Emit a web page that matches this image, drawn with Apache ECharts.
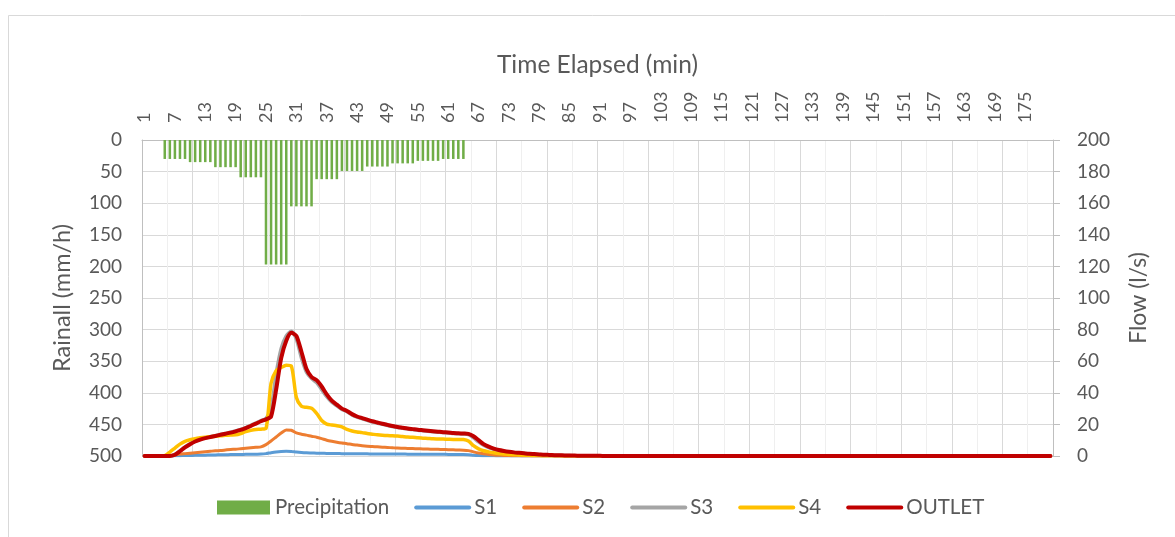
<!DOCTYPE html>
<html>
<head>
<meta charset="utf-8">
<script src="https://cdn.jsdelivr.net/npm/echarts@6/dist/echarts.min.js"></script>
<style>
html,body{margin:0;padding:0;background:#fff;}
#c{width:1175px;height:537px;}
</style>
</head>
<body>
<div id="c"></div>
<script>
// Minutes 1..180 (category labels)
const categories = Array.from({length: 180}, (_, i) => String(i + 1));

// Rainfall intensity (mm/h), one value per minute
const precipitation = [
  0,0,0,0,30,30,30,30,30,35,
  35,35,35,35,43,43,43,43,43,59,
  59,59,59,59,197,197,197,197,197,105,
  105,105,105,105,62,62,62,62,62,49,
  49,49,49,49,42,42,42,42,42,37,
  37,37,37,37,33,33,33,33,33,30,
  30,30,30,30,0,0,0,0,0,0,
  0,0,0,0,0,0,0,0,0,0,
  0,0,0,0,0,0,0,0,0,0,
  0,0,0,0,0,0,0,0,0,0,
  0,0,0,0,0,0,0,0,0,0,
  0,0,0,0,0,0,0,0,0,0,
  0,0,0,0,0,0,0,0,0,0,
  0,0,0,0,0,0,0,0,0,0,
  0,0,0,0,0,0,0,0,0,0,
  0,0,0,0,0,0,0,0,0,0,
  0,0,0,0,0,0,0,0,0,0,
  0,0,0,0,0,0,0,0,0,0
];

// Flows (l/s)
const s1 = [
  0,0,0,0,0,0,0.1,0.2,0.3,0.35,
  0.4,0.5,0.55,0.6,0.7,0.75,0.8,0.9,0.95,1,
  1.05,1.1,1.15,1.2,1.5,2.1,2.6,2.9,3,2.9,
  2.5,2.2,2,1.9,1.8,1.7,1.65,1.6,1.55,1.5,
  1.47,1.44,1.41,1.38,1.35,1.32,1.3,1.28,1.26,1.24,
  1.22,1.2,1.18,1.16,1.14,1.12,1.1,1.08,1.06,1.04,
  1.02,1,0.98,0.96,0.8,0.5,0.3,0.2,0.12,0.08,
  0.05,0.03,0.02,0.01,0,0,0,0,0,0,
  0,0,0,0,0,0,0,0,0,0,
  0,0,0,0,0,0,0,0,0,0,
  0,0,0,0,0,0,0,0,0,0,
  0,0,0,0,0,0,0,0,0,0,
  0,0,0,0,0,0,0,0,0,0,
  0,0,0,0,0,0,0,0,0,0,
  0,0,0,0,0,0,0,0,0,0,
  0,0,0,0,0,0,0,0,0,0,
  0,0,0,0,0,0,0,0,0,0,
  0,0,0,0,0,0,0,0,0,0
];
const s2 = [
  0,0,0,0,0,0.2,0.7,1.2,1.5,1.8,
  2.1,2.4,2.7,3,3.3,3.5,3.8,4.1,4.3,4.6,
  4.9,5.2,5.5,5.8,7.2,9.5,12,14.5,16.5,16.3,
  14.6,13.8,13.2,12.5,11.9,11,10,9.3,8.7,8.2,
  7.8,7.3,6.9,6.5,6.2,6,5.8,5.6,5.4,5.2,
  5,4.9,4.8,4.7,4.6,4.5,4.4,4.3,4.2,4.1,
  4,3.9,3.8,3.7,3.4,2.6,1.9,1.4,1,0.7,
  0.5,0.35,0.25,0.15,0.1,0.05,0,0,0,0,
  0,0,0,0,0,0,0,0,0,0,
  0,0,0,0,0,0,0,0,0,0,
  0,0,0,0,0,0,0,0,0,0,
  0,0,0,0,0,0,0,0,0,0,
  0,0,0,0,0,0,0,0,0,0,
  0,0,0,0,0,0,0,0,0,0,
  0,0,0,0,0,0,0,0,0,0,
  0,0,0,0,0,0,0,0,0,0,
  0,0,0,0,0,0,0,0,0,0,
  0,0,0,0,0,0,0,0,0,0
];
const s3 = [
  0,0,0,0,0,0,1,3.4,5.8,7.8,
  9.4,10.6,11.5,12.2,12.9,13.6,14.3,15,15.9,16.8,
  18,19.4,20.9,22.4,23.8,30,52,68,76,79,
  74,62,53,49,46.5,42,37.5,34,31.8,29.5,
  28,26,24.6,23.6,22.6,21.6,20.8,20,19.3,18.7,
  18.1,17.6,17.1,16.7,16.3,16,15.7,15.4,15.1,14.8,
  14.6,14.3,14.1,13.9,13.5,11.5,9,6.8,5.3,4.3,
  3.5,2.9,2.4,2,1.7,1.4,1.2,1,0.85,0.7,
  0.6,0.5,0.4,0.3,0.25,0.2,0.15,0.12,0.1,0.08,
  0.06,0.05,0.04,0.03,0.02,0.02,0.01,0.01,0,0,
  0,0,0,0,0,0,0,0,0,0,
  0,0,0,0,0,0,0,0,0,0,
  0,0,0,0,0,0,0,0,0,0,
  0,0,0,0,0,0,0,0,0,0,
  0,0,0,0,0,0,0,0,0,0,
  0,0,0,0,0,0,0,0,0,0,
  0,0,0,0,0,0,0,0,0,0,
  0,0,0,0,0,0,0,0,0,0
];
const s4 = [
  0,0,0,0,0.3,2.5,5,7.5,9.3,10.3,
  11,11.5,11.9,12.2,12.5,12.8,13.1,13.3,13.4,14.2,
  15.4,16.2,16.8,17,17.5,46,54,56,57.5,57,
  37,31.5,30.8,30.2,27,22.5,20.2,19.6,19.2,18.5,
  16.8,15.8,15.2,14.8,14.2,13.8,13.4,13.1,12.9,12.8,
  12.6,12.3,12,11.8,11.5,11.3,11.1,10.9,10.8,10.7,
  10.6,10.5,10.5,10.4,9.5,6.5,4.5,3.3,2.6,2,
  1.5,1.2,1,0.8,0.65,0.5,0.4,0.3,0.25,0.2,
  0.15,0.1,0.08,0.06,0.05,0.04,0.03,0.02,0.01,0.01,
  0,0,0,0,0,0,0,0,0,0,
  0,0,0,0,0,0,0,0,0,0,
  0,0,0,0,0,0,0,0,0,0,
  0,0,0,0,0,0,0,0,0,0,
  0,0,0,0,0,0,0,0,0,0,
  0,0,0,0,0,0,0,0,0,0,
  0,0,0,0,0,0,0,0,0,0,
  0,0,0,0,0,0,0,0,0,0,
  0,0,0,0,0,0,0,0,0,0
];
const outlet = [
  0,0,0,0,0,0,0.8,3,5.5,7.5,
  9.2,10.4,11.3,12,12.7,13.4,14.1,14.8,15.6,16.5,
  17.7,19,20.5,22,23.2,25,42,62,73,78,
  76,66,55,50,48,44,39,35,32.5,30,
  28.5,26.5,25,24,23,22,21.2,20.4,19.7,19,
  18.4,17.9,17.4,17,16.6,16.3,16,15.7,15.4,15.1,
  14.9,14.6,14.4,14.2,14,12.5,10,7.5,5.9,4.7,
  3.8,3.2,2.7,2.3,2,1.7,1.4,1.2,1,0.8,
  0.7,0.55,0.45,0.35,0.3,0.25,0.2,0.15,0.12,0.1,
  0.08,0.06,0.05,0.04,0.03,0.02,0.02,0.01,0.01,0,
  0,0,0,0,0,0,0,0,0,0,
  0,0,0,0,0,0,0,0,0,0,
  0,0,0,0,0,0,0,0,0,0,
  0,0,0,0,0,0,0,0,0,0,
  0,0,0,0,0,0,0,0,0,0,
  0,0,0,0,0,0,0,0,0,0,
  0,0,0,0,0,0,0,0,0,0,
  0,0,0,0,0,0,0,0,0,0
];

// Axis tick settings
const rainTicks = {min: 0, max: 500, interval: 50};
const flowTicks = {min: 0, max: 200, interval: 20};

const FONT = 'Lato';
const TXT = '#595959';

const chart = echarts.init(document.getElementById('c'), null, {renderer: 'canvas'});

function lineSeries(name, data, color, width) {
  return {
    name: name, type: 'line', data: data,
    xAxisIndex: 0, yAxisIndex: 1,
    symbol: 'none', smooth: 0.25,
    lineStyle: {color: color, width: width, cap: 'round', join: 'round'},
    itemStyle: {color: color},
    emphasis: {disabled: true}
  };
}

chart.setOption({
  animation: false,
  backgroundColor: '#ffffff',
  textStyle: {fontFamily: FONT, color: TXT},
  graphic: [{
    type: 'rect', silent: true, z: -10,
    shape: {x: 8.5, y: 15.5, width: 1300, height: 700},
    style: {fill: 'none', stroke: '#d9d9d9', lineWidth: 1}
  }],
  legend: {
    left: 217, top: 497, padding: 0,
    itemWidth: 53, itemHeight: 14, itemGap: 25,
    itemStyle: {opacity: 0},
    lineStyle: {width: 4},
    textStyle: {fontFamily: FONT, fontSize: 20.5, color: TXT},
    data: [
      {name: 'Precipitation', icon: 'rect', itemStyle: {opacity: 1}},
      'S1', 'S2', 'S3', 'S4', 'OUTLET'
    ]
  },
  grid: {left: 142, right: 122, top: 140, bottom: 81, containLabel: false},
  xAxis: [
    {
      type: 'category', position: 'top', data: categories, boundaryGap: true,
      name: 'Time Elapsed (min)', nameLocation: 'middle', nameGap: 62,
      nameTextStyle: {fontFamily: FONT, fontSize: 24.5, color: TXT},
      axisLine: {show: true, lineStyle: {color: '#bfbfbf', width: 1}},
      axisTick: {show: false},
      axisLabel: {interval: 5, rotate: 90, margin: 17, fontFamily: FONT, fontSize: 18, color: TXT},
      splitLine: {show: false}
    },
    {
      type: 'value', position: 'bottom', min: 0, max: 180, interval: 10,
      axisLine: {show: false}, axisTick: {show: false}, axisLabel: {show: false},
      splitLine: {show: true, lineStyle: {color: '#d9d9d9', width: 1}},
      minorTick: {show: false, splitNumber: 2},
      minorSplitLine: {show: true, lineStyle: {color: '#efefef', width: 1}}
    }
  ],
  yAxis: [
    {
      type: 'value', inverse: true, position: 'left',
      min: rainTicks.min, max: rainTicks.max, interval: rainTicks.interval,
      name: 'Rainall (mm/h)', nameLocation: 'middle', nameGap: 68, nameRotate: 90,
      nameTextStyle: {fontFamily: FONT, fontSize: 23.5, color: TXT},
      axisLine: {show: true, lineStyle: {color: '#bfbfbf', width: 1}},
      axisTick: {show: false},
      axisLabel: {margin: 20, fontFamily: FONT, fontSize: 19, color: TXT},
      splitLine: {show: true, lineStyle: {color: '#d9d9d9', width: 1}}
    },
    {
      type: 'value', position: 'right',
      min: flowTicks.min, max: flowTicks.max, interval: flowTicks.interval,
      name: 'Flow (l/s)', nameLocation: 'middle', nameGap: 74, nameRotate: 90,
      nameTextStyle: {fontFamily: FONT, fontSize: 23, color: TXT},
      axisLine: {show: true, lineStyle: {color: '#bfbfbf', width: 1}},
      axisTick: {show: true, inside: false, length: 7, lineStyle: {color: '#bfbfbf'}},
      axisLabel: {margin: 24, fontFamily: FONT, fontSize: 19, color: TXT},
      splitLine: {show: false}
    }
  ],
  series: [
    {
      name: 'Precipitation', type: 'bar', data: precipitation,
      xAxisIndex: 0, yAxisIndex: 0, barWidth: '50%',
      itemStyle: {color: '#70AD47'},
      emphasis: {disabled: true}
    },
    lineSeries('S1', s1, '#5B9BD5', 3),
    lineSeries('S2', s2, '#ED7D31', 3),
    lineSeries('S3', s3, '#A5A5A5', 3.5),
    lineSeries('S4', s4, '#FFC000', 3.5),
    lineSeries('OUTLET', outlet, '#C00000', 4)
  ]
});
</script>
</body>
</html>
